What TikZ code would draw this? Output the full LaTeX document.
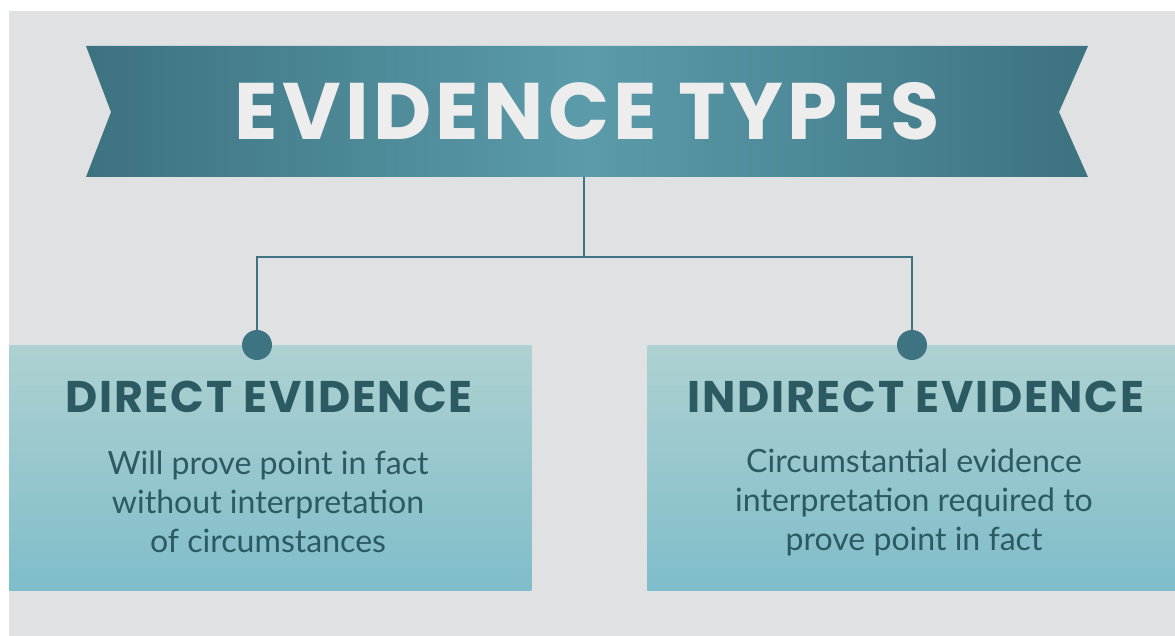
\documentclass[tikz,border=0pt]{standalone}
\usepackage{fontspec}
\setmainfont{Lato}
\newfontfamily\headfont{Poppins}
\usetikzlibrary{positioning}
\definecolor{bgc}{HTML}{E0E1E3}
\definecolor{bandark}{HTML}{3D7280}
\definecolor{bandlight}{HTML}{5B9BAA}
\definecolor{linkc}{HTML}{3E7381}
\definecolor{cardtop}{HTML}{AED1D1}
\definecolor{cardbot}{HTML}{7FBDCA}
\definecolor{inkc}{HTML}{2B5A62}
\pgfdeclarehorizontalshading{banshade}{100bp}{color(0bp)=(bandark); color(25bp)=(bandark); color(50bp)=(bandlight); color(75bp)=(bandark); color(100bp)=(bandark)}
\begin{document}
\begin{tikzpicture}[x=0.025cm,y=-0.025cm,
  card/.style={anchor=north west,minimum height=6.125cm,top color=cardtop,bottom color=cardbot,inner sep=0pt},
  head/.style={font=\headfont\bfseries\fontsize{31.5}{36}\selectfont\addfontfeatures{LetterSpace=4},text=inkc},
  body/.style={font=\fontsize{22.8}{27.7}\selectfont,text=inkc,align=center},
  dot/.style={circle,fill=linkc,inner sep=0pt,minimum size=0.75cm},
  link/.style={draw=linkc,line width=2.1pt}]
\useasboundingbox (0,0) rectangle (1175,636);
\fill[white] (0,0) rectangle (1175,636);
\fill[bgc] (9,11) rectangle (1175,636);
\shade[shading=banshade] (86,46) -- (1088,46) -- (1059,112) -- (1088,177) -- (86,177) -- (111,112) -- cycle;
\node[minimum width=25.05cm,minimum height=3.275cm,text=white!93!black,font=\headfont\bfseries\fontsize{57}{60}\selectfont\addfontfeatures{LetterSpace=5.4}] (banner) at (587,111.5) {EVIDENCE TYPES};
\node[card,minimum width=13.05cm] (direct) at (9,345) {};
\node[card,minimum width=13.2cm] (indirect) at (647,345) {};
\node[head] (dhead) at (269,397) {DIRECT EVIDENCE};
\node[head] (ihead) at (916,397) {INDIRECT EVIDENCE};
\node[body] (dbody) at (268,502) {Will prove point in fact\\without interpretation\\of circumstances};
\node[body] (ibody) at (914,502) {Circumstantial evidence\\interpretation required to\\prove point in fact};
\coordinate (fork) at (584,257);
\node[dot] (ddot) at (257,345) {};
\node[dot] (idot) at (912,345) {};
\draw[link] (fork |- banner.south) -- (fork);
\draw[link] (ddot) |- (fork) -| (idot);
\end{tikzpicture}
\end{document}
